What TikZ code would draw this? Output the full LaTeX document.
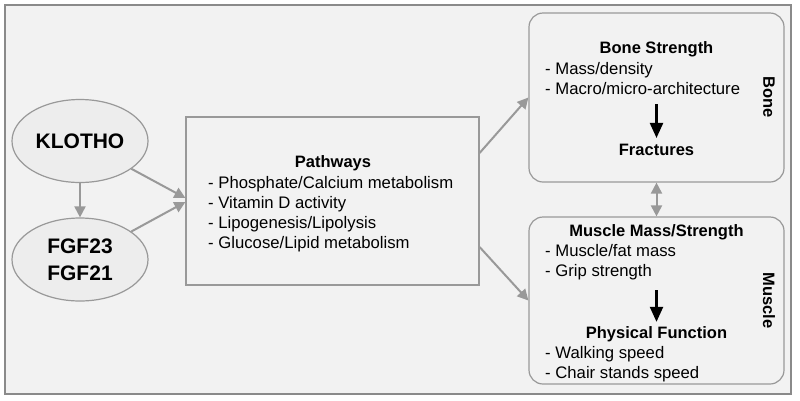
\documentclass[tikz,border=0pt]{standalone}
\usepackage{fontspec}
\setmainfont{Liberation Sans}
\usepackage{tikz}
\usetikzlibrary{arrows, arrows.meta, shapes.geometric}
\definecolor{panel}{HTML}{F2F2F2}
\definecolor{ovalfill}{HTML}{EDEDED}
\definecolor{edge}{HTML}{999999}
\definecolor{frame}{HTML}{8A8A8A}

\tikzset{
  oval/.style={ellipse, draw=edge, line width=1.2pt, fill=ovalfill, minimum width=136pt, minimum height=83pt, font=\fontsize{21}{27}\selectfont\bfseries, align=center},
  pathbox/.style={rectangle, draw=edge, line width=1.2pt, minimum width=293pt, minimum height=168pt},
  roundbox/.style={rectangle, rounded corners=14pt, draw=edge, line width=1.2pt, minimum width=255pt, minimum height=168pt},
  txt/.style={inner sep=0pt, font=\fontsize{16.7}{20}\selectfont, align=left},
  head/.style={inner sep=0pt, font=\fontsize{16.5}{20}\selectfont\bfseries},
  side/.style={inner sep=0pt, font=\fontsize{16.5}{20}\selectfont\bfseries, rotate=-90},
  grayarrow/.style={-{Triangle[length=11pt, width=11pt]}, draw=edge, line width=2pt},
  blackarrow/.style={-{Triangle[length=15pt, width=13pt]}, draw=black, line width=2.2pt}
}

\begin{document}
\begin{tikzpicture}[x=1pt, y=-1pt]
        \useasboundingbox (0,0) rectangle (800,400);
        % Outer panel
        \draw[frame, fill=panel, line width=1.2pt] (5,5) rectangle (791,394);

        % Left side: hormones
        \node[oval] (klotho) at (80,141) {KLOTHO};
        \node[oval] (fgf) at (80,259.5) {FGF23\\FGF21};

        % Pathways box (base anchor of a list = baseline of its last line)
        \node[pathbox] (pathways) at (332.5,201) {};
        \node[head, anchor=base] (pathhead) at (333,167) {Pathways};
        \node[txt, anchor=base west] (pathlist) at (208,248) {- Phosphate/Calcium metabolism\\- Vitamin D activity\\- Lipogenesis/Lipolysis\\- Glucose/Lipid metabolism};

        % Bone box
        \node[roundbox, minimum height=169pt] (bone) at (656.5,97.5) {};
        \node[head, anchor=base] (bonestr) at (656.5,53) {Bone Strength};
        \node[txt, anchor=base west] (bonelist) at (545,94) {- Mass/density\\- Macro/micro-architecture};
        \node[head, anchor=base] (fractures) at (656.5,155.5) {Fractures};
        \node[side] (bonelabel) at (769,97.5) {Bone};

        % Muscle box
        \node[roundbox, minimum height=167pt] (muscle) at (656.5,300.5) {};
        \node[head, anchor=base] (musclestr) at (656.5,236.5) {Muscle Mass/Strength};
        \node[txt, anchor=base west] (musclelist) at (545,276.5) {- Muscle/fat mass\\- Grip strength};
        \node[head, anchor=base] (physfunc) at (656.5,338) {Physical Function};
        \node[txt, anchor=base west] (physlist) at (545,378) {- Walking speed\\- Chair stands speed};
        \node[side] (musclelabel) at (769,300.5) {Muscle};

        % Gray connectors
        \draw[grayarrow] (klotho) -- (fgf);
        \draw[grayarrow] (klotho) -- ([yshift=3pt]pathways.west);
        \draw[grayarrow] (fgf) -- ([yshift=-1pt]pathways.west);
        \draw[grayarrow] ([yshift=48pt]pathways.east) -- (bone.west);
        \draw[grayarrow] ([yshift=-46pt]pathways.east) -- (muscle.west);
        \draw[grayarrow, {Triangle[length=11pt, width=11pt]}-{Triangle[length=11pt, width=11pt]}] (bone.south) -- (muscle.north);

        % Black arrows inside boxes
        \draw[blackarrow, shorten <=10pt, shorten >=6pt] (bonelist.south -| fractures.north) -- (fractures.north);
        \draw[blackarrow, shorten <=10pt, shorten >=4pt] (musclelist.south -| physfunc.north) -- (physfunc.north);
    \end{tikzpicture}
\end{document}
